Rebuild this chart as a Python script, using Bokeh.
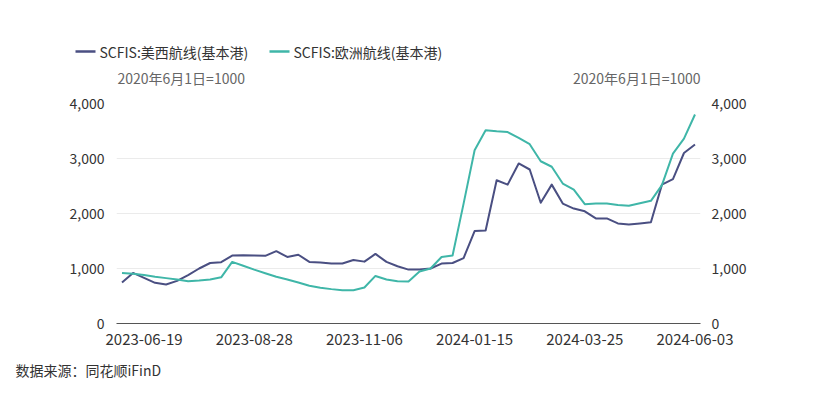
import pandas as pd
from bokeh.plotting import figure
from bokeh.layouts import column
from bokeh.models import (Range1d, LinearAxis, FixedTicker, DatetimeTickFormatter,
                          NumeralTickFormatter, ColumnDataSource)
from bokeh.core.properties import value
from bokeh.embed import file_html
from bokeh.resources import INLINE

# ---------------- data ----------------
dates = pd.date_range("2023-06-05", periods=53, freq="7D")
us_west = [745, 920, 830, 740, 710, 775, 880, 1000, 1100, 1115, 1235, 1240, 1235, 1230,
           1315, 1210, 1250, 1120, 1110, 1090, 1090, 1155, 1125, 1265, 1120, 1040, 980,
           980, 1000, 1090, 1100, 1190, 1680, 1690, 2605, 2525, 2910, 2800, 2195, 2525,
           2180, 2090, 2040, 1910, 1910, 1820, 1800, 1820, 1840, 2525, 2625, 3100, 3255]
europe = [920, 905, 880, 850, 825, 800, 770, 780, 800, 840, 1120, 1050, 980, 915, 850,
          800, 745, 685, 650, 625, 605, 605, 655, 865, 800, 770, 765, 945, 1000, 1210,
          1235, 2180, 3150, 3515, 3495, 3480, 3375, 3260, 2950, 2850, 2545, 2435, 2170,
          2180, 2180, 2155, 2140, 2185, 2230, 2515, 3090, 3360, 3800]
x_tick_labels = ["2023-06-19", "2023-08-28", "2023-11-06", "2024-01-15", "2024-03-25", "2024-06-03"]
y_ticks = [0, 1000, 2000, 3000, 4000]
series_names = ["SCFIS:美西航线(基本港)", "SCFIS:欧洲航线(基本港)"]
base_note = "2020年6月1日=1000"
source_note = "数据来源：同花顺iFinD"

FONT = "Noto Sans CJK SC"
US_COLOR = "#4a4f82"
EU_COLOR = "#3fb6a8"
TEXT = "#333333"
SUB = "#666666"
W = 800
HEAD_H, MAIN_H, FOOT_H = 90, 267, 30


def no_align(f):
    try:
        f.frame_align = False
    except Exception:
        pass


def blank(height):
    f = figure(width=W, height=height, output_backend="svg", toolbar_location=None,
               x_axis_type=None, y_axis_type=None,
               x_range=Range1d(0, W), y_range=Range1d(height, 0),
               min_border=0)
    f.outline_line_color = None
    f.xgrid.grid_line_color = None
    f.ygrid.grid_line_color = None
    f.background_fill_color = "white"
    f.border_fill_color = "white"
    no_align(f)
    return f


def txt(f, x, y, text, color=TEXT, align="left", size="14px"):
    f.text(x=[x], y=[y], text=[text], text_font=value(FONT), text_font_size=value(size),
           text_color=color, text_align=align, text_baseline="middle")


# ---------------- header (legend + base notes) ----------------
head = blank(HEAD_H)
for (x0, x1, tx, name, col) in [(75, 95, 99, series_names[0], US_COLOR),
                                (269, 289, 293, series_names[1], EU_COLOR)]:
    head.line(x=[x0, x1], y=[51, 51], line_color=col, line_width=2.5)
    txt(head, tx, 51, name)
txt(head, 117, 77, base_note, SUB)
txt(head, 700, 77, base_note, SUB, align="right")

# ---------------- main chart ----------------
src = ColumnDataSource(dict(date=dates, us=us_west, eu=europe))
half = pd.Timedelta(days=3.5)
p = figure(width=W, height=MAIN_H, output_backend="svg", toolbar_location=None,
           x_axis_type="datetime",
           x_range=Range1d(dates[0] - half, dates[-1] + half),
           y_range=Range1d(0, 4000),
           min_border_left=116, min_border_right=100,
           min_border_top=103 - HEAD_H, min_border_bottom=HEAD_H + MAIN_H - 323)
p.outline_line_color = None
p.background_fill_color = "white"
p.border_fill_color = "white"
no_align(p)

p.line("date", "us", source=src, color=US_COLOR, line_width=2, line_join="round")
p.line("date", "eu", source=src, color=EU_COLOR, line_width=2, line_join="round")

xa = p.xaxis[0]
xa.ticker = FixedTicker(ticks=[pd.Timestamp(t).timestamp() * 1000 for t in x_tick_labels])
fmt = "%Y-%m-%d"
xa.formatter = DatetimeTickFormatter(milliseconds=fmt, seconds=fmt, minsec=fmt, minutes=fmt,
                                     hourmin=fmt, hours=fmt, days=fmt, months=fmt, years=fmt)
xa.axis_line_color = "#555555"
xa.major_tick_line_color = None
xa.minor_tick_line_color = None
xa.major_tick_out = 0
xa.major_tick_in = 0
xa.major_label_text_font = FONT
xa.major_label_text_font_size = "15px"
xa.major_label_text_color = TEXT
xa.major_label_standoff = 10

ya = p.yaxis[0]
ya.ticker = FixedTicker(ticks=y_ticks)
ya.formatter = NumeralTickFormatter(format="0,0")
right = LinearAxis(ticker=FixedTicker(ticks=y_ticks), formatter=NumeralTickFormatter(format="0,0"))
p.add_layout(right, "right")
for a in (ya, right):
    a.axis_line_color = None
    a.major_tick_line_color = None
    a.minor_tick_line_color = None
    a.major_tick_out = 0
    a.major_tick_in = 0
    a.major_label_text_font = FONT
    a.major_label_text_font_size = "14px"
    a.major_label_text_color = TEXT
ya.major_label_standoff = 12
right.major_label_standoff = 11

p.xgrid.grid_line_color = None
p.ygrid.grid_line_color = "#ebebeb"
p.ygrid.ticker = FixedTicker(ticks=y_ticks[1:])

# ---------------- footer (source) ----------------
foot = blank(FOOT_H)
txt(foot, 15, 372 - HEAD_H - MAIN_H - 3, source_note)

layout = column(head, p, foot, spacing=0)
open("out.html", "w").write(file_html(layout, INLINE))
